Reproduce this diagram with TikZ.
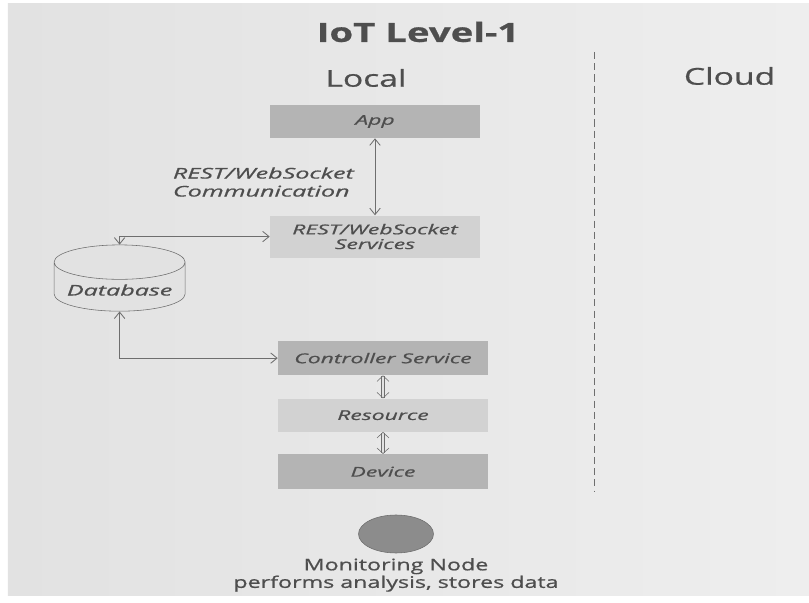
\documentclass[tikz,border=0pt]{standalone}
\usepackage{fontspec}
\setmainfont{Open Sans}
\newfontfamily\slidefont[FakeStretch=1.45, FakeBold=0.8]{Open Sans}
\newfontfamily\boxfont[FakeStretch=1.7, FakeBold=0.8]{Open Sans}
\usetikzlibrary{shapes.geometric, arrows.meta, positioning}

\definecolor{paper}{HTML}{E2E2E2}
\definecolor{paperlight}{HTML}{EEEEEE}
\definecolor{boxdark}{HTML}{B4B4B4}
\definecolor{boxlight}{HTML}{D2D2D2}
\definecolor{txt}{HTML}{4E4E4E}
\definecolor{linegray}{HTML}{6E6E6E}
\definecolor{nodegray}{HTML}{8C8C8C}

\begin{document}
\begin{tikzpicture}[
    node distance=0.55cm,
    % Styles
    darkbox/.style={rectangle, fill=boxdark, minimum width=5.25cm, inner sep=0pt, align=center, font=\boxfont\fontsize{9.6}{10.5}\selectfont\itshape, text=txt},
    lightbox/.style={darkbox, fill=boxlight},
    store/.style={cylinder, shape border rotate=90, aspect=0.3, draw=linegray, fill=paper, minimum width=3.275cm, minimum height=1.25cm, font=\boxfont\fontsize{10.5}{12}\selectfont\itshape, text=txt},
    heading/.style={font=\slidefont\fontsize{16.5}{20}\selectfont, text=txt},
    arrow/.style={{Straight Barb[length=1.6mm, width=2.6mm]}-{Straight Barb[length=1.6mm, width=2.6mm]}, draw=linegray, semithick},
    hollow/.style={{Straight Barb[length=1.4mm, width=3mm]}-{Straight Barb[length=1.4mm, width=3mm]}, double=paper, double distance=1.4pt, draw=linegray, thin},
    label/.style={font=\boxfont\fontsize{10.5}{12.8}\selectfont\itshape, text=txt, align=left}
]
    \useasboundingbox (0,0) rectangle (20.225,-15.075);
    \shade[left color=paper, right color=paperlight] (0.2,-0.1) rectangle (20.225,-14.9);

    % Headings
    \node[heading, font=\slidefont\fontsize{18.8}{22}\selectfont\bfseries] (title) at (10.45,-0.8) {IoT Level-1};
    \node[heading] (local) at (9.15,-1.95) {Local};
    \node[heading] (cloud) at (18.24,-1.9) {Cloud};

    % Divider
    \coordinate (septop) at (14.85,-1.3);
    \coordinate (sepbot) at (14.85,-12.3);
    \draw[linegray, dash pattern=on 5pt off 3pt] (septop) -- (sepbot);

    % Local stack
    \node[darkbox, minimum height=0.825cm] (app) at (9.375,-3.0375) {App};
    \node[lightbox, minimum height=1.05cm, below=1.925cm of app] (svc) {REST/WebSocket\\Services};
    \node[darkbox, minimum height=0.85cm, below=2.075cm of svc, xshift=0.2cm] (ctrl) {Controller Service};
    \node[lightbox, minimum height=0.825cm, below=0.575cm of ctrl] (res) {Resource};
    \node[darkbox, minimum height=0.875cm, below=0.55cm of res] (dev) {Device};

    % Database
    \node[store] (db) at (2.99,-7.25) {Database};

    % Communication label
    \node[label, anchor=west] (comm) at (4.2,-4.55) {REST/WebSocket\\Communication};

    % Arrows
    \draw[arrow] (app.south) -- (app.south |- svc.north);
    \draw[arrow] (db.north) |- (svc.west);
    \draw[arrow] (db.south) |- (ctrl.west);
    \draw[hollow] (ctrl.south) -- (res.north);
    \draw[hollow] (res.south) -- (dev.north);

    % Monitoring node
    \node[ellipse, draw=linegray, fill=nodegray, minimum width=1.875cm, minimum height=0.95cm] (mon) at (9.9,-13.35) {};
    \node[below=0.08cm of mon, align=center, inner sep=1pt, font=\slidefont\fontsize{11.4}{10.8}\selectfont, text=txt] (montext) {Monitoring Node\\performs analysis, stores data};
\end{tikzpicture}
\end{document}
